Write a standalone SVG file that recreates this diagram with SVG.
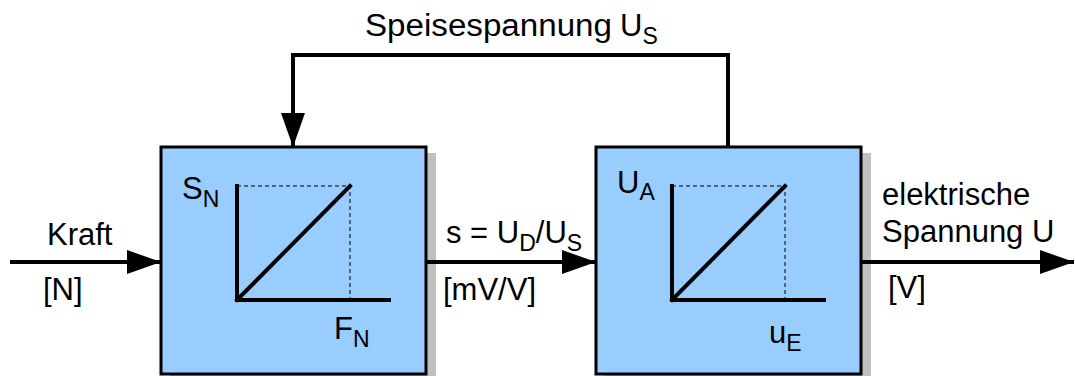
<svg xmlns="http://www.w3.org/2000/svg" width="1075" height="376" viewBox="0 0 1075 376">
<defs>
<style>
.box{fill:#99ccff;stroke:#000;stroke-width:3}
.shadow{fill:#c0c0c0}
.ax{fill:none;stroke:#000;stroke-width:4;stroke-linecap:square}
.dash{fill:none;stroke:#000;stroke-width:1;stroke-dasharray:4 3}
.wire{fill:none;stroke:#000;stroke-width:4}
.t{font-family:"Liberation Sans",Arial,sans-serif;font-size:31px;fill:#000}
.sub{font-size:23px}
</style>
<marker id="ah" viewBox="0 0 34 24" refX="34" refY="12" markerWidth="34" markerHeight="24" markerUnits="userSpaceOnUse" orient="auto">
<path d="M0,0 L34,12 L0,24 Z" fill="#000"/>
</marker>
</defs>
<rect width="1075" height="376" fill="#fff"/>
<g id="block1">
<rect class="shadow" x="170" y="153" width="266" height="227"/>
<rect class="box" x="161" y="147" width="265" height="227"/>
<path class="dash" d="M237,186 H350 V300"/>
<path class="ax" d="M237,186 V300 H389"/>
<path class="ax" d="M237,300 L350,186"/>
<text class="t" x="182" y="199">S<tspan class="sub" dy="8">N</tspan></text>
<text class="t" x="334" y="339">F<tspan class="sub" dy="8">N</tspan></text>
</g>
<g id="block2">
<rect class="shadow" x="605" y="153" width="266" height="227"/>
<rect class="box" x="596" y="147" width="265" height="227"/>
<path class="dash" d="M672,186 H785 V300"/>
<path class="ax" d="M672,186 V300 H824"/>
<path class="ax" d="M672,300 L785,186"/>
<text class="t" x="617" y="193">U<tspan class="sub" dy="7">A</tspan></text>
<text class="t" x="769" y="343">u<tspan class="sub" dy="8">E</tspan></text>
</g>
<g id="connectors">
<line class="wire" x1="10" y1="262" x2="161" y2="262" marker-end="url(#ah)"/>
<line class="wire" x1="427" y1="262" x2="596" y2="262" marker-end="url(#ah)"/>
<line class="wire" x1="862" y1="262" x2="1074" y2="262" marker-end="url(#ah)"/>
<path class="wire" d="M728,147 V55 H293 V147" marker-end="url(#ah)"/>
</g>
<g id="labels">
<text class="t" x="365" y="36" textLength="247" lengthAdjust="spacingAndGlyphs">Speisespannung</text>
<text class="t" x="620" y="36">U<tspan class="sub" dy="8">S</tspan></text>
<text class="t" x="47" y="245">Kraft</text>
<text class="t" x="43" y="300">[N]</text>
<text class="t" x="446" y="243">s = U<tspan class="sub" dy="8">D</tspan><tspan dy="-8">/U</tspan><tspan class="sub" dy="8">S</tspan></text>
<text class="t" x="443" y="300">[mV/V]</text>
<text class="t" x="882" y="205">elektrische</text>
<text class="t" x="882" y="242">Spannung U</text>
<text class="t" x="888" y="298">[V]</text>
</g>
</svg>
